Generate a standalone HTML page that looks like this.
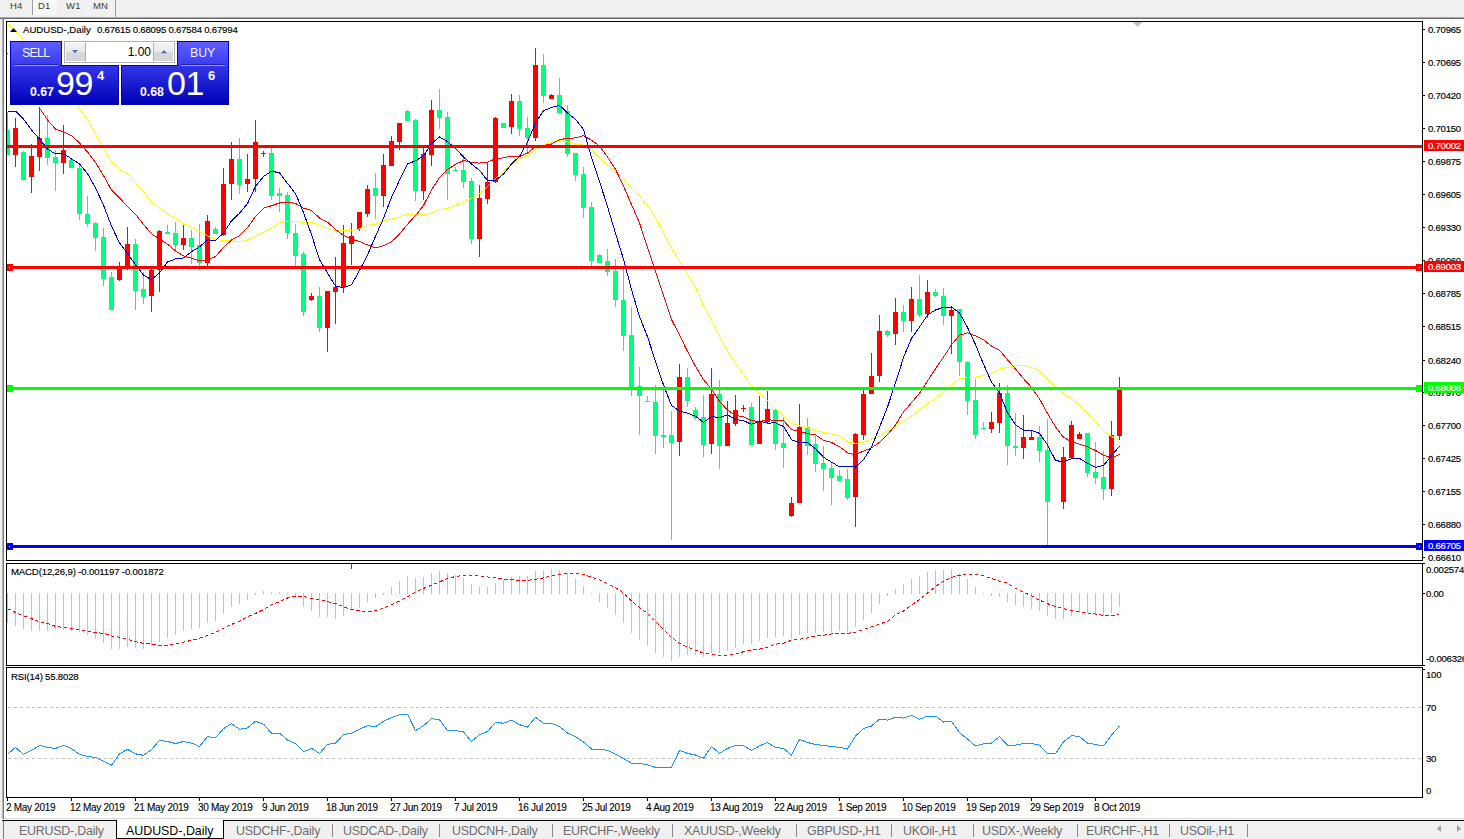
<!DOCTYPE html><html><head><meta charset="utf-8"><title>AUDUSD-,Daily</title><style>
*{margin:0;padding:0;box-sizing:border-box}
body{width:1464px;height:839px;overflow:hidden;position:relative;background:#fff;font-family:"Liberation Sans",sans-serif}
.t{position:absolute;white-space:nowrap;line-height:10px;font-size:9.6px;letter-spacing:-0.1px;color:#000;-webkit-text-stroke:0.15px currentColor}
.ax{position:absolute;white-space:nowrap;font-size:9.6px;letter-spacing:-0.25px;color:#000;line-height:10px;left:1428px;-webkit-text-stroke:0.15px currentColor}
.dt{position:absolute;white-space:nowrap;font-size:10px;letter-spacing:-0.3px;color:#000;line-height:10px;top:803px;-webkit-text-stroke:0.1px currentColor}
.tab{position:absolute;top:822px;height:18px;font-size:12.4px;letter-spacing:-0.2px;color:#6d6d6d;line-height:18px;white-space:nowrap}
.sep{position:absolute;top:824px;width:1px;height:13px;background:#8a8a8a}
.pn{position:absolute;color:#fff;white-space:nowrap;line-height:1}
</style></head><body>
<div style="position:absolute;left:0;top:0;width:1464px;height:17px;background:#f0f0f0"></div>
<div style="position:absolute;left:0;top:17px;width:1464px;height:1px;background:#a8a8a8"></div>
<div style="position:absolute;left:0;top:18px;width:1464px;height:1px;background:#6c6c6c"></div>
<div style="position:absolute;left:33px;top:0;width:24px;height:15px;background:#f7f7f7"></div>
<div style="position:absolute;left:32px;top:0;width:1px;height:15px;background:#a0a0a0"></div>
<div style="position:absolute;left:115px;top:0;width:1px;height:17px;background:#a0a0a0"></div>
<div class="t" style="left:10px;top:1px;font-size:9.5px;letter-spacing:0.2px;color:#3a3a3a;-webkit-text-stroke:0">H4</div>
<div class="t" style="left:38px;top:1px;font-size:9.5px;letter-spacing:0.2px;color:#3a3a3a;-webkit-text-stroke:0">D1</div>
<div class="t" style="left:66px;top:1px;font-size:9.5px;letter-spacing:0.2px;color:#3a3a3a;-webkit-text-stroke:0">W1</div>
<div class="t" style="left:93px;top:1px;font-size:9.5px;letter-spacing:0.2px;color:#3a3a3a;-webkit-text-stroke:0">MN</div>
<div style="position:absolute;left:0;top:19px;width:2px;height:800px;background:#f0f0f0"></div>
<div style="position:absolute;left:2px;top:19px;width:1px;height:800px;background:#b4b4b4"></div><div style="position:absolute;left:3px;top:19px;width:1px;height:800px;background:#7c7c7c"></div>
<svg style="position:absolute;left:0;top:0" width="1464" height="839" shape-rendering="crispEdges">
<defs><clipPath id="cm"><rect x="7" y="22" width="1415" height="538"/></clipPath><clipPath id="cd"><rect x="7" y="564" width="1415" height="101"/></clipPath><clipPath id="cr"><rect x="7" y="668" width="1415" height="129"/></clipPath></defs>
<polygon points="1132.8,22 1142.2,22 1137.5,27" fill="#c0c0c0" shape-rendering="auto"/>
<g clip-path="url(#cm)">
<rect x="7" y="112" width="1" height="43" fill="#00ff7f"/>
<rect x="5" y="130" width="5" height="25" fill="#00ff7f"/>
<rect x="15" y="118" width="1" height="49" fill="#ff0000"/>
<rect x="13" y="128" width="5" height="27" fill="#ff0000"/>
<rect x="23" y="151" width="1" height="30" fill="#00ff7f"/>
<rect x="21" y="152" width="5" height="28" fill="#00ff7f"/>
<rect x="31" y="144" width="1" height="49" fill="#ff0000"/>
<rect x="29" y="156" width="5" height="21" fill="#ff0000"/>
<rect x="39" y="107" width="1" height="64" fill="#ff0000"/>
<rect x="37" y="138" width="5" height="19" fill="#ff0000"/>
<rect x="47" y="115" width="1" height="50" fill="#00ff7f"/>
<rect x="45" y="138" width="5" height="20" fill="#00ff7f"/>
<rect x="55" y="150" width="1" height="41" fill="#00ff7f"/>
<rect x="53" y="157" width="5" height="6" fill="#00ff7f"/>
<rect x="63" y="125" width="1" height="49" fill="#ff0000"/>
<rect x="61" y="150" width="5" height="13" fill="#ff0000"/>
<rect x="71" y="158" width="1" height="10" fill="#00ff7f"/>
<rect x="69" y="160" width="5" height="8" fill="#00ff7f"/>
<rect x="79" y="164" width="1" height="56" fill="#00ff7f"/>
<rect x="77" y="168" width="5" height="46" fill="#00ff7f"/>
<rect x="87" y="196" width="1" height="31" fill="#00ff7f"/>
<rect x="85" y="214" width="5" height="10" fill="#00ff7f"/>
<rect x="95" y="222" width="1" height="29" fill="#00ff7f"/>
<rect x="93" y="223" width="5" height="15" fill="#00ff7f"/>
<rect x="103" y="228" width="1" height="58" fill="#00ff7f"/>
<rect x="101" y="237" width="5" height="42" fill="#00ff7f"/>
<rect x="111" y="272" width="1" height="38" fill="#00ff7f"/>
<rect x="109" y="277" width="5" height="33" fill="#00ff7f"/>
<rect x="119" y="262" width="1" height="19" fill="#ff0000"/>
<rect x="117" y="267" width="5" height="13" fill="#ff0000"/>
<rect x="127" y="227" width="1" height="43" fill="#ff0000"/>
<rect x="125" y="244" width="5" height="24" fill="#ff0000"/>
<rect x="135" y="239" width="1" height="71" fill="#00ff7f"/>
<rect x="133" y="244" width="5" height="47" fill="#00ff7f"/>
<rect x="143" y="272" width="1" height="32" fill="#00ff7f"/>
<rect x="141" y="289" width="5" height="8" fill="#00ff7f"/>
<rect x="151" y="268" width="1" height="44" fill="#ff0000"/>
<rect x="149" y="270" width="5" height="26" fill="#ff0000"/>
<rect x="159" y="230" width="1" height="62" fill="#ff0000"/>
<rect x="157" y="231" width="5" height="39" fill="#ff0000"/>
<rect x="167" y="225" width="1" height="9" fill="#00ff7f"/>
<rect x="165" y="232" width="5" height="2" fill="#00ff7f"/>
<rect x="175" y="222" width="1" height="30" fill="#00ff7f"/>
<rect x="173" y="233" width="5" height="12" fill="#00ff7f"/>
<rect x="183" y="225" width="1" height="25" fill="#ff0000"/>
<rect x="181" y="238" width="5" height="7" fill="#ff0000"/>
<rect x="191" y="230" width="1" height="34" fill="#00ff7f"/>
<rect x="189" y="238" width="5" height="9" fill="#00ff7f"/>
<rect x="199" y="224" width="1" height="46" fill="#00ff7f"/>
<rect x="197" y="245" width="5" height="18" fill="#00ff7f"/>
<rect x="207" y="215" width="1" height="51" fill="#ff0000"/>
<rect x="205" y="221" width="5" height="42" fill="#ff0000"/>
<rect x="215" y="227" width="1" height="7" fill="#00ff7f"/>
<rect x="213" y="229" width="5" height="5" fill="#00ff7f"/>
<rect x="223" y="168" width="1" height="68" fill="#ff0000"/>
<rect x="221" y="184" width="5" height="51" fill="#ff0000"/>
<rect x="231" y="142" width="1" height="58" fill="#ff0000"/>
<rect x="229" y="159" width="5" height="25" fill="#ff0000"/>
<rect x="239" y="138" width="1" height="56" fill="#00ff7f"/>
<rect x="237" y="159" width="5" height="26" fill="#00ff7f"/>
<rect x="247" y="154" width="1" height="38" fill="#ff0000"/>
<rect x="245" y="179" width="5" height="5" fill="#ff0000"/>
<rect x="255" y="120" width="1" height="72" fill="#ff0000"/>
<rect x="253" y="142" width="5" height="37" fill="#ff0000"/>
<rect x="263" y="151" width="1" height="6" fill="#ff0000"/>
<rect x="261" y="153" width="5" height="1" fill="#ff0000"/>
<rect x="271" y="148" width="1" height="52" fill="#00ff7f"/>
<rect x="269" y="153" width="5" height="43" fill="#00ff7f"/>
<rect x="279" y="188" width="1" height="24" fill="#00ff7f"/>
<rect x="277" y="193" width="5" height="3" fill="#00ff7f"/>
<rect x="287" y="192" width="1" height="47" fill="#00ff7f"/>
<rect x="285" y="195" width="5" height="38" fill="#00ff7f"/>
<rect x="295" y="224" width="1" height="44" fill="#00ff7f"/>
<rect x="293" y="233" width="5" height="23" fill="#00ff7f"/>
<rect x="303" y="252" width="1" height="64" fill="#00ff7f"/>
<rect x="301" y="254" width="5" height="58" fill="#00ff7f"/>
<rect x="311" y="293" width="1" height="8" fill="#ff0000"/>
<rect x="309" y="296" width="5" height="4" fill="#ff0000"/>
<rect x="319" y="287" width="1" height="45" fill="#00ff7f"/>
<rect x="317" y="296" width="5" height="32" fill="#00ff7f"/>
<rect x="327" y="291" width="1" height="61" fill="#ff0000"/>
<rect x="325" y="291" width="5" height="37" fill="#ff0000"/>
<rect x="335" y="257" width="1" height="67" fill="#ff0000"/>
<rect x="333" y="287" width="5" height="5" fill="#ff0000"/>
<rect x="343" y="225" width="1" height="68" fill="#ff0000"/>
<rect x="341" y="243" width="5" height="44" fill="#ff0000"/>
<rect x="351" y="223" width="1" height="42" fill="#ff0000"/>
<rect x="349" y="236" width="5" height="8" fill="#ff0000"/>
<rect x="359" y="212" width="1" height="19" fill="#ff0000"/>
<rect x="357" y="212" width="5" height="17" fill="#ff0000"/>
<rect x="367" y="185" width="1" height="32" fill="#ff0000"/>
<rect x="365" y="189" width="5" height="25" fill="#ff0000"/>
<rect x="375" y="173" width="1" height="46" fill="#00ff7f"/>
<rect x="373" y="188" width="5" height="8" fill="#00ff7f"/>
<rect x="383" y="154" width="1" height="53" fill="#ff0000"/>
<rect x="381" y="165" width="5" height="31" fill="#ff0000"/>
<rect x="391" y="136" width="1" height="30" fill="#ff0000"/>
<rect x="389" y="141" width="5" height="25" fill="#ff0000"/>
<rect x="399" y="123" width="1" height="27" fill="#ff0000"/>
<rect x="397" y="123" width="5" height="19" fill="#ff0000"/>
<rect x="407" y="110" width="1" height="11" fill="#00ff7f"/>
<rect x="405" y="111" width="5" height="10" fill="#00ff7f"/>
<rect x="415" y="119" width="1" height="82" fill="#00ff7f"/>
<rect x="413" y="120" width="5" height="71" fill="#00ff7f"/>
<rect x="423" y="148" width="1" height="52" fill="#ff0000"/>
<rect x="421" y="154" width="5" height="37" fill="#ff0000"/>
<rect x="431" y="100" width="1" height="66" fill="#ff0000"/>
<rect x="429" y="110" width="5" height="45" fill="#ff0000"/>
<rect x="439" y="89" width="1" height="40" fill="#00ff7f"/>
<rect x="437" y="110" width="5" height="8" fill="#00ff7f"/>
<rect x="447" y="112" width="1" height="88" fill="#00ff7f"/>
<rect x="445" y="117" width="5" height="57" fill="#00ff7f"/>
<rect x="455" y="167" width="1" height="4" fill="#00ff7f"/>
<rect x="453" y="170" width="5" height="1" fill="#00ff7f"/>
<rect x="463" y="154" width="1" height="34" fill="#00ff7f"/>
<rect x="461" y="170" width="5" height="12" fill="#00ff7f"/>
<rect x="471" y="178" width="1" height="66" fill="#00ff7f"/>
<rect x="469" y="181" width="5" height="58" fill="#00ff7f"/>
<rect x="479" y="185" width="1" height="72" fill="#ff0000"/>
<rect x="477" y="198" width="5" height="41" fill="#ff0000"/>
<rect x="487" y="163" width="1" height="41" fill="#ff0000"/>
<rect x="485" y="182" width="5" height="17" fill="#ff0000"/>
<rect x="495" y="117" width="1" height="66" fill="#ff0000"/>
<rect x="493" y="118" width="5" height="64" fill="#ff0000"/>
<rect x="503" y="123" width="1" height="5" fill="#00ff7f"/>
<rect x="501" y="123" width="5" height="5" fill="#00ff7f"/>
<rect x="511" y="94" width="1" height="40" fill="#ff0000"/>
<rect x="509" y="101" width="5" height="26" fill="#ff0000"/>
<rect x="519" y="95" width="1" height="41" fill="#00ff7f"/>
<rect x="517" y="101" width="5" height="28" fill="#00ff7f"/>
<rect x="527" y="117" width="1" height="36" fill="#00ff7f"/>
<rect x="525" y="128" width="5" height="10" fill="#00ff7f"/>
<rect x="535" y="48" width="1" height="93" fill="#ff0000"/>
<rect x="533" y="65" width="5" height="73" fill="#ff0000"/>
<rect x="543" y="54" width="1" height="49" fill="#00ff7f"/>
<rect x="541" y="65" width="5" height="31" fill="#00ff7f"/>
<rect x="551" y="94" width="1" height="5" fill="#ff0000"/>
<rect x="549" y="95" width="5" height="4" fill="#ff0000"/>
<rect x="559" y="78" width="1" height="36" fill="#00ff7f"/>
<rect x="557" y="95" width="5" height="18" fill="#00ff7f"/>
<rect x="567" y="105" width="1" height="52" fill="#00ff7f"/>
<rect x="565" y="111" width="5" height="43" fill="#00ff7f"/>
<rect x="575" y="153" width="1" height="28" fill="#00ff7f"/>
<rect x="573" y="153" width="5" height="22" fill="#00ff7f"/>
<rect x="583" y="167" width="1" height="51" fill="#00ff7f"/>
<rect x="581" y="174" width="5" height="34" fill="#00ff7f"/>
<rect x="591" y="202" width="1" height="64" fill="#00ff7f"/>
<rect x="589" y="207" width="5" height="54" fill="#00ff7f"/>
<rect x="599" y="254" width="1" height="9" fill="#00ff7f"/>
<rect x="597" y="255" width="5" height="8" fill="#00ff7f"/>
<rect x="607" y="249" width="1" height="27" fill="#00ff7f"/>
<rect x="605" y="261" width="5" height="11" fill="#00ff7f"/>
<rect x="615" y="259" width="1" height="48" fill="#00ff7f"/>
<rect x="613" y="271" width="5" height="29" fill="#00ff7f"/>
<rect x="623" y="267" width="1" height="84" fill="#00ff7f"/>
<rect x="621" y="300" width="5" height="36" fill="#00ff7f"/>
<rect x="631" y="307" width="1" height="89" fill="#00ff7f"/>
<rect x="629" y="335" width="5" height="53" fill="#00ff7f"/>
<rect x="639" y="367" width="1" height="68" fill="#00ff7f"/>
<rect x="637" y="386" width="5" height="10" fill="#00ff7f"/>
<rect x="647" y="396" width="1" height="6" fill="#00ff7f"/>
<rect x="645" y="401" width="5" height="1" fill="#00ff7f"/>
<rect x="655" y="385" width="1" height="69" fill="#00ff7f"/>
<rect x="653" y="402" width="5" height="34" fill="#00ff7f"/>
<rect x="663" y="388" width="1" height="60" fill="#00ff7f"/>
<rect x="661" y="435" width="5" height="2" fill="#00ff7f"/>
<rect x="671" y="411" width="1" height="129" fill="#00ff7f"/>
<rect x="669" y="435" width="5" height="8" fill="#00ff7f"/>
<rect x="679" y="364" width="1" height="92" fill="#ff0000"/>
<rect x="677" y="377" width="5" height="65" fill="#ff0000"/>
<rect x="687" y="368" width="1" height="39" fill="#00ff7f"/>
<rect x="685" y="377" width="5" height="24" fill="#00ff7f"/>
<rect x="695" y="407" width="1" height="13" fill="#00ff7f"/>
<rect x="693" y="410" width="5" height="8" fill="#00ff7f"/>
<rect x="703" y="395" width="1" height="62" fill="#00ff7f"/>
<rect x="701" y="417" width="5" height="28" fill="#00ff7f"/>
<rect x="711" y="368" width="1" height="86" fill="#ff0000"/>
<rect x="709" y="394" width="5" height="50" fill="#ff0000"/>
<rect x="719" y="380" width="1" height="89" fill="#00ff7f"/>
<rect x="717" y="394" width="5" height="52" fill="#00ff7f"/>
<rect x="727" y="401" width="1" height="45" fill="#ff0000"/>
<rect x="725" y="423" width="5" height="23" fill="#ff0000"/>
<rect x="735" y="395" width="1" height="31" fill="#ff0000"/>
<rect x="733" y="410" width="5" height="14" fill="#ff0000"/>
<rect x="743" y="405" width="1" height="7" fill="#ff0000"/>
<rect x="741" y="408" width="5" height="1" fill="#ff0000"/>
<rect x="751" y="403" width="1" height="43" fill="#00ff7f"/>
<rect x="749" y="407" width="5" height="38" fill="#00ff7f"/>
<rect x="759" y="396" width="1" height="48" fill="#ff0000"/>
<rect x="757" y="421" width="5" height="23" fill="#ff0000"/>
<rect x="767" y="391" width="1" height="32" fill="#ff0000"/>
<rect x="765" y="409" width="5" height="13" fill="#ff0000"/>
<rect x="775" y="409" width="1" height="41" fill="#00ff7f"/>
<rect x="773" y="410" width="5" height="34" fill="#00ff7f"/>
<rect x="783" y="417" width="1" height="51" fill="#00ff7f"/>
<rect x="781" y="443" width="5" height="5" fill="#00ff7f"/>
<rect x="791" y="497" width="1" height="20" fill="#ff0000"/>
<rect x="789" y="503" width="5" height="13" fill="#ff0000"/>
<rect x="799" y="404" width="1" height="99" fill="#ff0000"/>
<rect x="797" y="427" width="5" height="76" fill="#ff0000"/>
<rect x="807" y="418" width="1" height="37" fill="#00ff7f"/>
<rect x="805" y="427" width="5" height="19" fill="#00ff7f"/>
<rect x="815" y="436" width="1" height="36" fill="#00ff7f"/>
<rect x="813" y="444" width="5" height="20" fill="#00ff7f"/>
<rect x="823" y="446" width="1" height="45" fill="#00ff7f"/>
<rect x="821" y="463" width="5" height="6" fill="#00ff7f"/>
<rect x="831" y="462" width="1" height="43" fill="#00ff7f"/>
<rect x="829" y="468" width="5" height="10" fill="#00ff7f"/>
<rect x="839" y="470" width="1" height="11" fill="#00ff7f"/>
<rect x="837" y="476" width="5" height="5" fill="#00ff7f"/>
<rect x="847" y="469" width="1" height="31" fill="#00ff7f"/>
<rect x="845" y="479" width="5" height="19" fill="#00ff7f"/>
<rect x="855" y="433" width="1" height="94" fill="#ff0000"/>
<rect x="853" y="434" width="5" height="63" fill="#ff0000"/>
<rect x="863" y="390" width="1" height="50" fill="#ff0000"/>
<rect x="861" y="394" width="5" height="41" fill="#ff0000"/>
<rect x="871" y="353" width="1" height="41" fill="#ff0000"/>
<rect x="869" y="376" width="5" height="18" fill="#ff0000"/>
<rect x="879" y="315" width="1" height="67" fill="#ff0000"/>
<rect x="877" y="331" width="5" height="45" fill="#ff0000"/>
<rect x="887" y="330" width="1" height="7" fill="#00ff7f"/>
<rect x="885" y="331" width="5" height="4" fill="#00ff7f"/>
<rect x="895" y="298" width="1" height="47" fill="#ff0000"/>
<rect x="893" y="312" width="5" height="22" fill="#ff0000"/>
<rect x="903" y="305" width="1" height="27" fill="#00ff7f"/>
<rect x="901" y="312" width="5" height="9" fill="#00ff7f"/>
<rect x="911" y="287" width="1" height="45" fill="#ff0000"/>
<rect x="909" y="299" width="5" height="22" fill="#ff0000"/>
<rect x="919" y="275" width="1" height="42" fill="#00ff7f"/>
<rect x="917" y="299" width="5" height="16" fill="#00ff7f"/>
<rect x="927" y="280" width="1" height="38" fill="#ff0000"/>
<rect x="925" y="292" width="5" height="22" fill="#ff0000"/>
<rect x="935" y="289" width="1" height="8" fill="#00ff7f"/>
<rect x="933" y="292" width="5" height="4" fill="#00ff7f"/>
<rect x="943" y="288" width="1" height="37" fill="#00ff7f"/>
<rect x="941" y="296" width="5" height="20" fill="#00ff7f"/>
<rect x="951" y="306" width="1" height="48" fill="#ff0000"/>
<rect x="949" y="310" width="5" height="6" fill="#ff0000"/>
<rect x="959" y="309" width="1" height="67" fill="#00ff7f"/>
<rect x="957" y="309" width="5" height="53" fill="#00ff7f"/>
<rect x="967" y="361" width="1" height="54" fill="#00ff7f"/>
<rect x="965" y="362" width="5" height="39" fill="#00ff7f"/>
<rect x="975" y="379" width="1" height="60" fill="#00ff7f"/>
<rect x="973" y="400" width="5" height="35" fill="#00ff7f"/>
<rect x="983" y="422" width="1" height="7" fill="#00ff7f"/>
<rect x="981" y="428" width="5" height="1" fill="#00ff7f"/>
<rect x="991" y="412" width="1" height="21" fill="#ff0000"/>
<rect x="989" y="422" width="5" height="7" fill="#ff0000"/>
<rect x="999" y="383" width="1" height="50" fill="#ff0000"/>
<rect x="997" y="393" width="5" height="30" fill="#ff0000"/>
<rect x="1007" y="385" width="1" height="80" fill="#00ff7f"/>
<rect x="1005" y="393" width="5" height="53" fill="#00ff7f"/>
<rect x="1015" y="413" width="1" height="43" fill="#00ff7f"/>
<rect x="1013" y="446" width="5" height="2" fill="#00ff7f"/>
<rect x="1023" y="415" width="1" height="44" fill="#ff0000"/>
<rect x="1021" y="437" width="5" height="11" fill="#ff0000"/>
<rect x="1031" y="431" width="1" height="9" fill="#ff0000"/>
<rect x="1029" y="437" width="5" height="3" fill="#ff0000"/>
<rect x="1039" y="426" width="1" height="36" fill="#00ff7f"/>
<rect x="1037" y="437" width="5" height="14" fill="#00ff7f"/>
<rect x="1047" y="419" width="1" height="126" fill="#00ff7f"/>
<rect x="1045" y="450" width="5" height="52" fill="#00ff7f"/>
<rect x="1063" y="447" width="1" height="62" fill="#ff0000"/>
<rect x="1061" y="457" width="5" height="45" fill="#ff0000"/>
<rect x="1071" y="421" width="1" height="37" fill="#ff0000"/>
<rect x="1069" y="425" width="5" height="33" fill="#ff0000"/>
<rect x="1079" y="432" width="1" height="7" fill="#ff0000"/>
<rect x="1077" y="434" width="5" height="5" fill="#ff0000"/>
<rect x="1087" y="433" width="1" height="44" fill="#00ff7f"/>
<rect x="1085" y="433" width="5" height="40" fill="#00ff7f"/>
<rect x="1095" y="442" width="1" height="42" fill="#00ff7f"/>
<rect x="1093" y="472" width="5" height="6" fill="#00ff7f"/>
<rect x="1103" y="451" width="1" height="49" fill="#00ff7f"/>
<rect x="1101" y="477" width="5" height="12" fill="#00ff7f"/>
<rect x="1111" y="421" width="1" height="75" fill="#ff0000"/>
<rect x="1109" y="435" width="5" height="54" fill="#ff0000"/>
<rect x="1119" y="377" width="1" height="63" fill="#ff0000"/>
<rect x="1117" y="390" width="5" height="46" fill="#ff0000"/>
<polyline points="7.5,24.0 15.5,31.5 23.5,39.0 31.5,49.0 39.5,59.0 47.5,69.0 55.5,79.0 63.5,89.0 71.5,99.0 79.5,109.5 87.5,119.5 95.5,134.0 103.5,148.5 111.5,162.0 119.5,169.5 127.5,174.0 135.5,182.6 143.5,192.0 151.5,202.0 159.5,208.0 167.5,214.0 175.5,218.3 183.5,223.6 191.5,226.8 199.5,231.9 207.5,235.8 215.5,239.4 223.5,240.4 231.5,240.9 239.5,241.7 247.5,240.0 255.5,236.1 263.5,232.0 271.5,228.1 279.5,222.7 287.5,221.0 295.5,221.6 303.5,222.6 311.5,222.6 319.5,225.3 327.5,228.2 335.5,230.7 343.5,230.6 351.5,230.5 359.5,228.9 367.5,225.3 375.5,224.1 383.5,220.9 391.5,218.8 399.5,217.1 407.5,214.0 415.5,214.6 423.5,215.2 431.5,213.1 439.5,209.4 447.5,208.4 455.5,205.4 463.5,201.9 471.5,198.4 479.5,193.8 487.5,186.8 495.5,178.6 503.5,171.0 511.5,164.2 519.5,159.1 527.5,155.6 535.5,149.7 543.5,145.0 551.5,141.6 559.5,140.3 567.5,141.8 575.5,144.3 583.5,145.1 591.5,150.2 599.5,157.5 607.5,164.9 615.5,170.9 623.5,178.7 631.5,188.5 639.5,196.0 647.5,205.7 655.5,217.8 663.5,233.0 671.5,248.0 679.5,261.1 687.5,274.1 695.5,287.4 703.5,305.5 711.5,319.7 719.5,336.4 727.5,351.2 735.5,363.4 743.5,374.5 751.5,385.8 759.5,393.4 767.5,400.3 775.5,408.5 783.5,415.6 791.5,423.5 799.5,425.4 807.5,427.8 815.5,430.7 823.5,432.3 831.5,434.2 839.5,436.0 847.5,441.8 855.5,443.4 863.5,442.2 871.5,439.0 879.5,436.0 887.5,430.7 895.5,425.4 903.5,421.1 911.5,416.0 919.5,409.8 927.5,403.6 935.5,398.2 943.5,392.1 951.5,385.6 959.5,378.9 967.5,377.6 975.5,377.1 983.5,375.4 991.5,373.2 999.5,369.1 1007.5,367.5 1015.5,365.1 1023.5,365.2 1031.5,367.3 1039.5,370.9 1047.5,379.0 1055.5,387.0 1063.5,393.9 1071.5,398.8 1079.5,405.2 1087.5,412.8 1095.5,421.6 1103.5,430.8 1111.5,436.5 1119.5,440.3" fill="none" stroke="#ffff00" stroke-width="1" />
<polyline points="7.5,53.0 15.5,67.0 23.5,81.0 31.5,95.0 39.5,108.0 47.5,120.0 55.5,129.0 63.5,132.0 71.5,135.5 79.5,143.0 87.5,152.0 95.5,162.5 103.5,175.5 111.5,190.1 119.5,198.1 127.5,206.4 135.5,214.3 143.5,224.4 151.5,233.8 159.5,239.0 167.5,244.1 175.5,250.9 183.5,255.9 191.5,258.2 199.5,261.0 207.5,259.8 215.5,256.6 223.5,247.6 231.5,239.9 239.5,235.6 247.5,227.6 255.5,216.6 263.5,208.2 271.5,205.7 279.5,203.0 287.5,202.1 295.5,203.4 303.5,208.1 311.5,210.4 319.5,218.1 327.5,222.1 335.5,229.5 343.5,235.5 351.5,239.1 359.5,241.5 367.5,244.9 375.5,247.9 383.5,245.7 391.5,241.8 399.5,233.9 407.5,224.3 415.5,215.6 423.5,205.5 431.5,189.9 439.5,177.6 447.5,169.5 455.5,164.4 463.5,160.5 471.5,162.4 479.5,163.1 487.5,162.1 495.5,158.7 503.5,157.8 511.5,156.2 519.5,156.8 527.5,153.0 535.5,146.6 543.5,145.6 551.5,144.0 559.5,139.6 567.5,138.4 575.5,137.9 583.5,135.7 591.5,140.2 599.5,146.0 607.5,157.0 615.5,169.3 623.5,186.1 631.5,204.6 639.5,223.0 647.5,247.1 655.5,271.4 663.5,295.8 671.5,319.4 679.5,335.3 687.5,351.4 695.5,366.4 703.5,379.6 711.5,388.9 719.5,401.4 727.5,410.1 735.5,415.4 743.5,416.9 751.5,420.4 759.5,421.7 767.5,419.8 775.5,420.3 783.5,420.6 791.5,429.6 799.5,431.5 807.5,433.5 815.5,434.9 823.5,440.2 831.5,442.5 839.5,446.6 847.5,452.9 855.5,454.8 863.5,451.1 871.5,447.9 879.5,442.4 887.5,434.6 895.5,424.9 903.5,411.9 911.5,402.7 919.5,393.4 927.5,381.1 935.5,368.7 943.5,357.1 951.5,344.9 959.5,335.2 967.5,332.9 975.5,335.8 983.5,339.6 991.5,346.1 999.5,350.2 1007.5,359.8 1015.5,368.9 1023.5,378.7 1031.5,387.4 1039.5,398.8 1047.5,413.5 1055.5,426.8 1063.5,437.3 1071.5,441.8 1079.5,444.1 1087.5,446.9 1095.5,450.4 1103.5,455.1 1111.5,458.1 1119.5,454.1" fill="none" stroke="#ff0000" stroke-width="1" />
<polyline points="7.5,111.0 15.5,111.0 23.5,119.0 31.5,130.0 39.5,139.0 47.5,149.0 55.5,154.0 63.5,153.3 71.5,159.0 79.5,163.9 87.5,173.6 95.5,187.9 103.5,205.1 111.5,226.1 119.5,242.9 127.5,253.7 135.5,264.7 143.5,275.1 151.5,279.7 159.5,272.9 167.5,262.0 175.5,258.9 183.5,258.0 191.5,251.7 199.5,246.9 207.5,239.9 215.5,240.3 223.5,233.1 231.5,220.9 239.5,213.3 247.5,203.6 255.5,186.3 263.5,176.6 271.5,171.1 279.5,172.9 287.5,183.4 295.5,193.6 303.5,212.6 311.5,234.6 319.5,259.6 327.5,273.1 335.5,286.1 343.5,287.6 351.5,284.7 359.5,270.4 367.5,255.1 375.5,236.3 383.5,218.3 391.5,197.4 399.5,180.3 407.5,163.9 415.5,160.9 423.5,155.9 431.5,143.6 439.5,136.9 447.5,141.6 455.5,148.4 463.5,157.1 471.5,164.0 479.5,170.3 487.5,180.6 495.5,180.6 503.5,174.0 511.5,164.0 519.5,156.4 527.5,142.0 535.5,123.0 543.5,110.7 551.5,107.4 559.5,105.3 567.5,112.9 575.5,119.4 583.5,129.4 591.5,157.4 599.5,181.3 607.5,206.6 615.5,233.3 623.5,259.3 631.5,289.7 639.5,316.6 647.5,336.7 655.5,361.4 663.5,385.0 671.5,405.4 679.5,411.3 687.5,413.1 695.5,416.3 703.5,422.4 711.5,416.4 719.5,417.7 727.5,414.9 735.5,419.6 743.5,420.6 751.5,424.4 759.5,421.0 767.5,423.1 775.5,422.9 783.5,426.4 791.5,439.7 799.5,442.4 807.5,442.6 815.5,448.7 823.5,457.3 831.5,462.1 839.5,466.9 847.5,466.1 855.5,467.1 863.5,459.7 871.5,447.1 879.5,427.4 887.5,407.0 895.5,382.9 903.5,357.6 911.5,338.3 919.5,327.0 927.5,315.0 935.5,310.0 943.5,307.3 951.5,307.0 959.5,312.9 967.5,327.4 975.5,344.6 983.5,364.1 991.5,382.1 999.5,393.1 1007.5,412.6 1015.5,424.9 1023.5,430.0 1031.5,430.3 1039.5,433.4 1047.5,444.9 1055.5,460.4 1063.5,462.0 1071.5,458.7 1079.5,458.3 1087.5,463.4 1095.5,467.3 1103.5,465.4 1111.5,455.9 1119.5,446.3" fill="none" stroke="#0000cd" stroke-width="1" />
</g>
<rect x="7" y="145" width="1415" height="3" fill="#ff0000"/>
<rect x="7" y="266" width="1415" height="3" fill="#ff0000"/>
<rect x="6" y="264" width="7" height="7" fill="#ff0000"/>
<rect x="9" y="267" width="1" height="1" fill="#fff"/>
<rect x="1416" y="264" width="7" height="7" fill="#ff0000"/>
<rect x="1419" y="267" width="1" height="1" fill="#fff"/>
<rect x="7" y="387" width="1415" height="3" fill="#00ff00"/>
<rect x="6" y="385" width="7" height="7" fill="#00ff00"/>
<rect x="9" y="388" width="1" height="1" fill="#fff"/>
<rect x="1416" y="385" width="7" height="7" fill="#00ff00"/>
<rect x="1419" y="388" width="1" height="1" fill="#fff"/>
<rect x="7" y="545" width="1415" height="3" fill="#0000ff"/>
<rect x="6" y="543" width="7" height="7" fill="#0000ff"/>
<rect x="9" y="546" width="1" height="1" fill="#fff"/>
<rect x="1416" y="543" width="7" height="7" fill="#0000ff"/>
<rect x="1419" y="546" width="1" height="1" fill="#fff"/>
<g clip-path="url(#cd)">
<rect x="7" y="593" width="1" height="30" fill="#c0c0c0"/>
<rect x="15" y="593" width="1" height="33" fill="#c0c0c0"/>
<rect x="23" y="593" width="1" height="36" fill="#c0c0c0"/>
<rect x="31" y="593" width="1" height="38" fill="#c0c0c0"/>
<rect x="39" y="593" width="1" height="38" fill="#c0c0c0"/>
<rect x="47" y="593" width="1" height="38" fill="#c0c0c0"/>
<rect x="55" y="593" width="1" height="36" fill="#c0c0c0"/>
<rect x="63" y="593" width="1" height="37" fill="#c0c0c0"/>
<rect x="71" y="593" width="1" height="38" fill="#c0c0c0"/>
<rect x="79" y="593" width="1" height="39" fill="#c0c0c0"/>
<rect x="87" y="593" width="1" height="42" fill="#c0c0c0"/>
<rect x="95" y="593" width="1" height="46" fill="#c0c0c0"/>
<rect x="103" y="593" width="1" height="50" fill="#c0c0c0"/>
<rect x="111" y="593" width="1" height="56" fill="#c0c0c0"/>
<rect x="119" y="593" width="1" height="56" fill="#c0c0c0"/>
<rect x="127" y="593" width="1" height="54" fill="#c0c0c0"/>
<rect x="135" y="593" width="1" height="55" fill="#c0c0c0"/>
<rect x="143" y="593" width="1" height="56" fill="#c0c0c0"/>
<rect x="151" y="593" width="1" height="53" fill="#c0c0c0"/>
<rect x="159" y="593" width="1" height="49" fill="#c0c0c0"/>
<rect x="167" y="593" width="1" height="45" fill="#c0c0c0"/>
<rect x="175" y="593" width="1" height="42" fill="#c0c0c0"/>
<rect x="183" y="593" width="1" height="38" fill="#c0c0c0"/>
<rect x="191" y="593" width="1" height="36" fill="#c0c0c0"/>
<rect x="199" y="593" width="1" height="35" fill="#c0c0c0"/>
<rect x="207" y="593" width="1" height="30" fill="#c0c0c0"/>
<rect x="215" y="593" width="1" height="28" fill="#c0c0c0"/>
<rect x="223" y="593" width="1" height="21" fill="#c0c0c0"/>
<rect x="231" y="593" width="1" height="14" fill="#c0c0c0"/>
<rect x="239" y="593" width="1" height="11" fill="#c0c0c0"/>
<rect x="247" y="593" width="1" height="7" fill="#c0c0c0"/>
<rect x="255" y="593" width="1" height="2" fill="#c0c0c0"/>
<rect x="263" y="591" width="1" height="3" fill="#c0c0c0"/>
<rect x="271" y="592" width="1" height="2" fill="#c0c0c0"/>
<rect x="279" y="592" width="1" height="2" fill="#c0c0c0"/>
<rect x="287" y="593" width="1" height="1" fill="#c0c0c0"/>
<rect x="295" y="593" width="1" height="5" fill="#c0c0c0"/>
<rect x="303" y="593" width="1" height="14" fill="#c0c0c0"/>
<rect x="311" y="593" width="1" height="18" fill="#c0c0c0"/>
<rect x="319" y="593" width="1" height="24" fill="#c0c0c0"/>
<rect x="327" y="593" width="1" height="24" fill="#c0c0c0"/>
<rect x="335" y="593" width="1" height="26" fill="#c0c0c0"/>
<rect x="343" y="593" width="1" height="23" fill="#c0c0c0"/>
<rect x="351" y="593" width="1" height="16" fill="#c0c0c0"/>
<rect x="359" y="593" width="1" height="15" fill="#c0c0c0"/>
<rect x="367" y="593" width="1" height="9" fill="#c0c0c0"/>
<rect x="375" y="593" width="1" height="5" fill="#c0c0c0"/>
<rect x="383" y="593" width="1" height="2" fill="#c0c0c0"/>
<rect x="391" y="587" width="1" height="7" fill="#c0c0c0"/>
<rect x="399" y="581" width="1" height="13" fill="#c0c0c0"/>
<rect x="407" y="576" width="1" height="18" fill="#c0c0c0"/>
<rect x="415" y="578" width="1" height="16" fill="#c0c0c0"/>
<rect x="423" y="577" width="1" height="17" fill="#c0c0c0"/>
<rect x="431" y="573" width="1" height="21" fill="#c0c0c0"/>
<rect x="439" y="571" width="1" height="23" fill="#c0c0c0"/>
<rect x="447" y="573" width="1" height="21" fill="#c0c0c0"/>
<rect x="455" y="575" width="1" height="19" fill="#c0c0c0"/>
<rect x="463" y="578" width="1" height="16" fill="#c0c0c0"/>
<rect x="471" y="584" width="1" height="10" fill="#c0c0c0"/>
<rect x="479" y="587" width="1" height="7" fill="#c0c0c0"/>
<rect x="487" y="587" width="1" height="7" fill="#c0c0c0"/>
<rect x="495" y="583" width="1" height="11" fill="#c0c0c0"/>
<rect x="503" y="580" width="1" height="14" fill="#c0c0c0"/>
<rect x="511" y="577" width="1" height="17" fill="#c0c0c0"/>
<rect x="519" y="576" width="1" height="18" fill="#c0c0c0"/>
<rect x="527" y="576" width="1" height="18" fill="#c0c0c0"/>
<rect x="535" y="571" width="1" height="23" fill="#c0c0c0"/>
<rect x="543" y="570" width="1" height="24" fill="#c0c0c0"/>
<rect x="551" y="569" width="1" height="25" fill="#c0c0c0"/>
<rect x="559" y="570" width="1" height="24" fill="#c0c0c0"/>
<rect x="567" y="573" width="1" height="21" fill="#c0c0c0"/>
<rect x="575" y="579" width="1" height="15" fill="#c0c0c0"/>
<rect x="583" y="586" width="1" height="8" fill="#c0c0c0"/>
<rect x="591" y="593" width="1" height="1" fill="#c0c0c0"/>
<rect x="599" y="593" width="1" height="9" fill="#c0c0c0"/>
<rect x="607" y="593" width="1" height="15" fill="#c0c0c0"/>
<rect x="615" y="593" width="1" height="22" fill="#c0c0c0"/>
<rect x="623" y="593" width="1" height="30" fill="#c0c0c0"/>
<rect x="631" y="593" width="1" height="40" fill="#c0c0c0"/>
<rect x="639" y="593" width="1" height="47" fill="#c0c0c0"/>
<rect x="647" y="593" width="1" height="53" fill="#c0c0c0"/>
<rect x="655" y="593" width="1" height="60" fill="#c0c0c0"/>
<rect x="663" y="593" width="1" height="64" fill="#c0c0c0"/>
<rect x="671" y="593" width="1" height="68" fill="#c0c0c0"/>
<rect x="679" y="593" width="1" height="64" fill="#c0c0c0"/>
<rect x="687" y="593" width="1" height="62" fill="#c0c0c0"/>
<rect x="695" y="593" width="1" height="62" fill="#c0c0c0"/>
<rect x="703" y="593" width="1" height="64" fill="#c0c0c0"/>
<rect x="711" y="593" width="1" height="60" fill="#c0c0c0"/>
<rect x="719" y="593" width="1" height="60" fill="#c0c0c0"/>
<rect x="727" y="593" width="1" height="58" fill="#c0c0c0"/>
<rect x="735" y="593" width="1" height="55" fill="#c0c0c0"/>
<rect x="743" y="593" width="1" height="51" fill="#c0c0c0"/>
<rect x="751" y="593" width="1" height="51" fill="#c0c0c0"/>
<rect x="759" y="593" width="1" height="48" fill="#c0c0c0"/>
<rect x="767" y="593" width="1" height="45" fill="#c0c0c0"/>
<rect x="775" y="593" width="1" height="44" fill="#c0c0c0"/>
<rect x="783" y="593" width="1" height="43" fill="#c0c0c0"/>
<rect x="791" y="593" width="1" height="46" fill="#c0c0c0"/>
<rect x="799" y="593" width="1" height="42" fill="#c0c0c0"/>
<rect x="807" y="593" width="1" height="40" fill="#c0c0c0"/>
<rect x="815" y="593" width="1" height="40" fill="#c0c0c0"/>
<rect x="823" y="593" width="1" height="39" fill="#c0c0c0"/>
<rect x="831" y="593" width="1" height="39" fill="#c0c0c0"/>
<rect x="839" y="593" width="1" height="38" fill="#c0c0c0"/>
<rect x="847" y="593" width="1" height="39" fill="#c0c0c0"/>
<rect x="855" y="593" width="1" height="34" fill="#c0c0c0"/>
<rect x="863" y="593" width="1" height="27" fill="#c0c0c0"/>
<rect x="871" y="593" width="1" height="20" fill="#c0c0c0"/>
<rect x="879" y="593" width="1" height="11" fill="#c0c0c0"/>
<rect x="887" y="593" width="1" height="3" fill="#c0c0c0"/>
<rect x="895" y="589" width="1" height="5" fill="#c0c0c0"/>
<rect x="903" y="584" width="1" height="10" fill="#c0c0c0"/>
<rect x="911" y="579" width="1" height="15" fill="#c0c0c0"/>
<rect x="919" y="576" width="1" height="18" fill="#c0c0c0"/>
<rect x="927" y="572" width="1" height="22" fill="#c0c0c0"/>
<rect x="935" y="570" width="1" height="24" fill="#c0c0c0"/>
<rect x="943" y="570" width="1" height="24" fill="#c0c0c0"/>
<rect x="951" y="569" width="1" height="25" fill="#c0c0c0"/>
<rect x="959" y="573" width="1" height="21" fill="#c0c0c0"/>
<rect x="967" y="579" width="1" height="15" fill="#c0c0c0"/>
<rect x="975" y="587" width="1" height="7" fill="#c0c0c0"/>
<rect x="983" y="593" width="1" height="1" fill="#c0c0c0"/>
<rect x="991" y="593" width="1" height="3" fill="#c0c0c0"/>
<rect x="999" y="593" width="1" height="4" fill="#c0c0c0"/>
<rect x="1007" y="593" width="1" height="9" fill="#c0c0c0"/>
<rect x="1015" y="593" width="1" height="12" fill="#c0c0c0"/>
<rect x="1023" y="593" width="1" height="14" fill="#c0c0c0"/>
<rect x="1031" y="593" width="1" height="16" fill="#c0c0c0"/>
<rect x="1039" y="593" width="1" height="18" fill="#c0c0c0"/>
<rect x="1047" y="593" width="1" height="23" fill="#c0c0c0"/>
<rect x="1055" y="593" width="1" height="26" fill="#c0c0c0"/>
<rect x="1063" y="593" width="1" height="26" fill="#c0c0c0"/>
<rect x="1071" y="593" width="1" height="23" fill="#c0c0c0"/>
<rect x="1079" y="593" width="1" height="20" fill="#c0c0c0"/>
<rect x="1087" y="593" width="1" height="20" fill="#c0c0c0"/>
<rect x="1095" y="593" width="1" height="22" fill="#c0c0c0"/>
<rect x="1103" y="593" width="1" height="23" fill="#c0c0c0"/>
<rect x="1111" y="593" width="1" height="20" fill="#c0c0c0"/>
<rect x="1119" y="593" width="1" height="14" fill="#c0c0c0"/>
<polyline points="7.5,608.6 15.5,612.5 23.5,616.0 31.5,618.5 39.5,622.4 47.5,623.4 55.5,626.4 63.5,627.4 71.5,628.4 79.5,629.4 87.5,631.3 95.5,632.7 103.5,633.3 111.5,635.9 119.5,637.3 127.5,639.3 135.5,641.8 143.5,643.2 151.5,644.2 159.5,645.2 167.5,645.2 175.5,643.8 183.5,642.2 191.5,640.3 199.5,638.3 207.5,635.3 215.5,632.3 223.5,628.4 231.5,624.4 239.5,621.4 247.5,616.5 255.5,613.5 263.5,609.6 271.5,604.6 279.5,601.6 287.5,598.0 295.5,596.3 303.5,596.3 311.5,598.3 319.5,599.6 327.5,601.6 335.5,603.6 343.5,606.6 351.5,609.6 359.5,611.0 367.5,611.5 375.5,610.5 383.5,608.2 391.5,604.6 399.5,601.0 407.5,596.7 415.5,592.3 423.5,588.4 431.5,585.2 439.5,581.8 447.5,578.5 455.5,576.5 463.5,575.3 471.5,575.3 479.5,575.9 487.5,576.9 495.5,577.9 503.5,579.2 511.5,579.8 519.5,580.4 527.5,580.4 535.5,579.2 543.5,577.9 551.5,575.9 559.5,574.5 567.5,573.3 575.5,573.3 583.5,574.5 591.5,577.3 599.5,579.8 607.5,583.8 615.5,587.8 623.5,592.7 631.5,601.0 639.5,607.6 647.5,613.5 655.5,621.4 663.5,629.4 671.5,637.3 679.5,643.2 687.5,647.2 695.5,650.2 703.5,653.1 711.5,654.5 719.5,655.1 727.5,655.1 735.5,654.1 743.5,651.7 751.5,650.2 759.5,649.2 767.5,647.2 775.5,644.2 783.5,643.2 791.5,640.3 799.5,639.3 807.5,637.9 815.5,635.9 823.5,635.3 831.5,633.9 839.5,633.3 847.5,633.3 855.5,632.3 863.5,629.4 871.5,626.8 879.5,624.0 887.5,621.4 895.5,614.9 903.5,611.0 911.5,605.0 919.5,599.6 927.5,593.1 935.5,586.4 943.5,581.2 951.5,577.3 959.5,575.3 967.5,574.5 975.5,574.5 983.5,575.9 991.5,578.5 999.5,581.2 1007.5,583.2 1015.5,588.4 1023.5,592.3 1031.5,595.7 1039.5,600.2 1047.5,603.6 1055.5,606.6 1063.5,608.6 1071.5,610.5 1079.5,612.1 1087.5,612.9 1095.5,614.1 1103.5,615.5 1111.5,615.5 1119.5,614.5" fill="none" stroke="#ff0000" stroke-width="1" stroke-dasharray="3.5 2.5"/>
</g>
<rect x="351" y="564" width="1" height="5" fill="#ff0000"/>
<line x1="8" y1="707.5" x2="1421" y2="707.5" stroke="#c0c0c0" stroke-dasharray="3 3"/>
<line x1="8" y1="758.5" x2="1421" y2="758.5" stroke="#c0c0c0" stroke-dasharray="3 3"/>
<g clip-path="url(#cr)">
<polyline points="7.5,754.4 15.5,747.4 23.5,754.4 31.5,750.4 39.5,745.5 47.5,747.4 55.5,748.4 63.5,745.5 71.5,748.4 79.5,754.4 87.5,756.4 95.5,757.4 103.5,761.3 111.5,765.3 119.5,753.8 127.5,749.4 135.5,753.8 143.5,755.4 151.5,749.4 159.5,740.5 167.5,741.5 175.5,743.5 183.5,741.5 191.5,743.1 199.5,746.5 207.5,736.6 215.5,737.9 223.5,728.6 231.5,723.7 239.5,729.2 247.5,728.0 255.5,721.3 263.5,724.1 271.5,733.2 279.5,733.2 287.5,740.0 295.5,743.5 303.5,751.8 311.5,748.4 319.5,753.4 327.5,744.5 335.5,743.1 343.5,734.6 351.5,733.2 359.5,729.2 367.5,725.7 375.5,726.6 383.5,721.3 391.5,717.7 399.5,714.8 407.5,714.2 415.5,730.6 423.5,725.7 431.5,718.7 439.5,719.7 447.5,730.6 455.5,730.6 463.5,732.0 471.5,741.5 479.5,734.6 487.5,731.6 495.5,722.1 503.5,723.3 511.5,720.1 519.5,724.7 527.5,727.2 535.5,717.3 543.5,723.3 551.5,723.3 559.5,726.6 567.5,733.0 575.5,736.6 583.5,741.9 591.5,749.0 599.5,749.0 607.5,750.4 615.5,754.4 623.5,758.3 631.5,763.3 639.5,763.3 647.5,764.9 655.5,767.3 663.5,767.3 671.5,767.3 679.5,750.4 687.5,753.4 695.5,755.0 703.5,758.3 711.5,746.5 719.5,753.4 727.5,748.4 735.5,745.5 743.5,745.5 751.5,750.4 759.5,745.9 767.5,742.5 775.5,747.4 783.5,748.4 791.5,755.0 799.5,739.5 807.5,742.5 815.5,744.5 823.5,745.5 831.5,746.5 839.5,747.4 847.5,749.0 855.5,736.0 863.5,728.6 871.5,726.0 879.5,719.3 887.5,720.1 895.5,717.3 903.5,718.1 911.5,715.4 919.5,719.3 927.5,716.1 935.5,716.1 943.5,722.1 951.5,721.3 959.5,732.6 967.5,739.1 975.5,745.9 983.5,743.9 991.5,743.1 999.5,736.6 1007.5,745.1 1015.5,745.1 1023.5,743.5 1031.5,743.5 1039.5,745.1 1047.5,753.8 1055.5,753.8 1063.5,741.9 1071.5,735.6 1079.5,736.6 1087.5,743.1 1095.5,744.5 1103.5,745.9 1111.5,735.2 1119.5,726.0" fill="none" stroke="#1e90ff" stroke-width="1" />
</g>
<rect x="6" y="21" width="1417" height="1" fill="#000"/>
<rect x="6" y="560" width="1417" height="1" fill="#000"/>
<rect x="6" y="21" width="1" height="540" fill="#000"/>
<rect x="1422" y="21" width="1" height="540" fill="#000"/>
<rect x="6" y="563" width="1417" height="1" fill="#000"/>
<rect x="6" y="665" width="1417" height="1" fill="#000"/>
<rect x="6" y="563" width="1" height="103" fill="#000"/>
<rect x="1422" y="563" width="1" height="103" fill="#000"/>
<rect x="6" y="667" width="1417" height="1" fill="#000"/>
<rect x="6" y="797" width="1417" height="1" fill="#000"/>
<rect x="6" y="667" width="1" height="131" fill="#000"/>
<rect x="1422" y="667" width="1" height="131" fill="#000"/>
<rect x="1423" y="29" width="2" height="1" fill="#000"/>
<rect x="1423" y="62" width="2" height="1" fill="#000"/>
<rect x="1423" y="95" width="2" height="1" fill="#000"/>
<rect x="1423" y="128" width="2" height="1" fill="#000"/>
<rect x="1423" y="161" width="2" height="1" fill="#000"/>
<rect x="1423" y="194" width="2" height="1" fill="#000"/>
<rect x="1423" y="227" width="2" height="1" fill="#000"/>
<rect x="1423" y="260" width="2" height="1" fill="#000"/>
<rect x="1423" y="293" width="2" height="1" fill="#000"/>
<rect x="1423" y="326" width="2" height="1" fill="#000"/>
<rect x="1423" y="360" width="2" height="1" fill="#000"/>
<rect x="1423" y="392" width="2" height="1" fill="#000"/>
<rect x="1423" y="425" width="2" height="1" fill="#000"/>
<rect x="1423" y="458" width="2" height="1" fill="#000"/>
<rect x="1423" y="491" width="2" height="1" fill="#000"/>
<rect x="1423" y="524" width="2" height="1" fill="#000"/>
<rect x="1423" y="557" width="2" height="1" fill="#000"/>
<rect x="1423" y="563" width="2" height="1" fill="#000"/>
<rect x="1423" y="593" width="2" height="1" fill="#000"/>
<rect x="1423" y="665" width="2" height="1" fill="#000"/>
<rect x="1423" y="669" width="2" height="1" fill="#000"/>
<rect x="7" y="798" width="1" height="3" fill="#000"/>
<rect x="71" y="798" width="1" height="3" fill="#000"/>
<rect x="135" y="798" width="1" height="3" fill="#000"/>
<rect x="199" y="798" width="1" height="3" fill="#000"/>
<rect x="263" y="798" width="1" height="3" fill="#000"/>
<rect x="327" y="798" width="1" height="3" fill="#000"/>
<rect x="391" y="798" width="1" height="3" fill="#000"/>
<rect x="455" y="798" width="1" height="3" fill="#000"/>
<rect x="519" y="798" width="1" height="3" fill="#000"/>
<rect x="583" y="798" width="1" height="3" fill="#000"/>
<rect x="647" y="798" width="1" height="3" fill="#000"/>
<rect x="711" y="798" width="1" height="3" fill="#000"/>
<rect x="775" y="798" width="1" height="3" fill="#000"/>
<rect x="839" y="798" width="1" height="3" fill="#000"/>
<rect x="903" y="798" width="1" height="3" fill="#000"/>
<rect x="967" y="798" width="1" height="3" fill="#000"/>
<rect x="1031" y="798" width="1" height="3" fill="#000"/>
<rect x="1095" y="798" width="1" height="3" fill="#000"/>
<rect x="4" y="818" width="1460" height="1" fill="#d9d9d9"/>
<rect x="2" y="820" width="1462" height="1" fill="#000"/>
</svg>
<div class="ax" style="top:25px">0.70965</div>
<div class="ax" style="top:58px">0.70695</div>
<div class="ax" style="top:91px">0.70420</div>
<div class="ax" style="top:124px">0.70150</div>
<div class="ax" style="top:157px">0.69875</div>
<div class="ax" style="top:190px">0.69605</div>
<div class="ax" style="top:223px">0.69330</div>
<div class="ax" style="top:256px">0.69060</div>
<div class="ax" style="top:289px">0.68785</div>
<div class="ax" style="top:322px">0.68515</div>
<div class="ax" style="top:356px">0.68240</div>
<div class="ax" style="top:388px">0.67970</div>
<div class="ax" style="top:421px">0.67700</div>
<div class="ax" style="top:454px">0.67425</div>
<div class="ax" style="top:487px">0.67155</div>
<div class="ax" style="top:520px">0.66880</div>
<div class="ax" style="top:553px">0.66610</div>
<div class="ax" style="top:565px;left:1426px">0.002574</div>
<div class="ax" style="top:589px;left:1426px">0.00</div>
<div class="ax" style="top:654px;left:1426px">-0.006326</div>
<div class="ax" style="top:670px;left:1426px">100</div>
<div class="ax" style="top:703px;left:1426px">70</div>
<div class="ax" style="top:754px;left:1426px">30</div>
<div class="ax" style="top:786px;left:1426px">0</div>
<div class="dt" style="left:6px">2 May 2019</div>
<div class="dt" style="left:70px">12 May 2019</div>
<div class="dt" style="left:134px">21 May 2019</div>
<div class="dt" style="left:198px">30 May 2019</div>
<div class="dt" style="left:262px">9 Jun 2019</div>
<div class="dt" style="left:326px">18 Jun 2019</div>
<div class="dt" style="left:390px">27 Jun 2019</div>
<div class="dt" style="left:454px">7 Jul 2019</div>
<div class="dt" style="left:518px">16 Jul 2019</div>
<div class="dt" style="left:582px">25 Jul 2019</div>
<div class="dt" style="left:646px">4 Aug 2019</div>
<div class="dt" style="left:710px">13 Aug 2019</div>
<div class="dt" style="left:774px">22 Aug 2019</div>
<div class="dt" style="left:838px">1 Sep 2019</div>
<div class="dt" style="left:902px">10 Sep 2019</div>
<div class="dt" style="left:966px">19 Sep 2019</div>
<div class="dt" style="left:1030px">29 Sep 2019</div>
<div class="dt" style="left:1094px">8 Oct 2019</div>
<div style="position:absolute;left:1424px;top:140px;width:40px;height:11px;background:#ff0000"></div>
<div class="ax" style="top:141px;color:#fff">0.70002</div>
<div style="position:absolute;left:1424px;top:261px;width:40px;height:11px;background:#ff0000"></div>
<div class="ax" style="top:262px;color:#fff">0.69003</div>
<div style="position:absolute;left:1424px;top:382px;width:40px;height:11px;background:#00ff00"></div>
<div class="ax" style="top:383px;color:#fff">0.68006</div>
<div style="position:absolute;left:1424px;top:540px;width:40px;height:11px;background:#0000ff"></div>
<div class="ax" style="top:541px;color:#fff">0.66705</div>
<svg style="position:absolute;left:10px;top:28px" width="8" height="5"><polygon points="0,4 7,4 3.5,0" fill="#000"/></svg>
<div class="t" style="left:23px;top:25px;letter-spacing:0">AUDUSD-,Daily</div>
<div class="t" style="left:97px;top:25px;letter-spacing:-0.2px">0.67615 0.68095 0.67584 0.67994</div>
<div class="t" style="left:11px;top:567px;letter-spacing:-0.15px">MACD(12,26,9) -0.001197 -0.001872</div>
<div class="t" style="left:11px;top:672px;letter-spacing:-0.2px">RSI(14) 55.8028</div>
<div style="position:absolute;left:8px;top:39px;width:223px;height:68px;background:#fff"></div>
<div style="position:absolute;left:10px;top:41px;width:52px;height:25px;background:linear-gradient(#5e5eff,#3a3af0);border:1px solid #0000c8;border-bottom:none"></div>
<div style="position:absolute;left:177px;top:41px;width:52px;height:25px;background:linear-gradient(#5e5eff,#3a3af0);border:1px solid #0000c8;border-bottom:none"></div>
<div style="position:absolute;left:10px;top:65px;width:109px;height:40px;background:linear-gradient(#3434e8,#0000b8);border:1px solid #0000b0;border-top:1px solid #0000c0"></div>
<div style="position:absolute;left:121px;top:65px;width:108px;height:40px;background:linear-gradient(#3434e8,#0000b8);border:1px solid #0000b0;border-top:1px solid #0000c0"></div>
<div style="position:absolute;left:11px;top:41px;width:50px;height:25px;background:linear-gradient(#5e5eff,#3a3af0)"></div>
<div style="position:absolute;left:178px;top:41px;width:50px;height:25px;background:linear-gradient(#5e5eff,#3a3af0);border-top:1px solid #0000c8"></div>
<div style="position:absolute;left:11px;top:41px;width:50px;height:1px;background:#0000c8"></div>
<div style="position:absolute;left:14px;top:64px;width:44px;height:1px;background:#2020c0"></div>
<div style="position:absolute;left:14px;top:65px;width:44px;height:1px;background:#9a9aff"></div>
<div style="position:absolute;left:181px;top:64px;width:44px;height:1px;background:#2020c0"></div>
<div style="position:absolute;left:181px;top:65px;width:44px;height:1px;background:#9a9aff"></div>
<div style="position:absolute;left:64px;top:41px;width:111px;height:22px;background:#fff;border:1px solid #b0b0b0"></div>
<div style="position:absolute;left:65px;top:42px;width:21px;height:20px;background:linear-gradient(#f2f2f2 0%,#ebebeb 48%,#d8d8d8 52%,#d4d4d4 100%);border:1px solid #fff;border-right:1px solid #b0b0b0"></div>
<div style="position:absolute;left:153px;top:42px;width:21px;height:20px;background:linear-gradient(#f2f2f2 0%,#ebebeb 48%,#d8d8d8 52%,#d4d4d4 100%);border:1px solid #fff;border-left:1px solid #b0b0b0"></div>
<svg style="position:absolute;left:72px;top:50px" width="6" height="4"><polygon points="0,0 6,0 3,3.2" fill="#5868c0"/></svg>
<svg style="position:absolute;left:161px;top:50px" width="6" height="4"><polygon points="0,3.2 6,3.2 3,0" fill="#5868c0"/></svg>
<div class="pn" style="left:121px;top:46px;width:30px;text-align:right;color:#000;font-size:12px">1.00</div>
<div class="pn" style="left:22px;top:47px;font-size:12.3px;letter-spacing:-0.7px;color:#f4f4ff">SELL</div>
<div class="pn" style="left:190px;top:47px;font-size:12.3px;color:#f4f4ff">BUY</div>
<div class="pn" style="left:30px;top:86px;font-size:12.3px;font-weight:bold">0.67</div>
<div class="pn" style="left:56px;top:66px;font-size:34px;letter-spacing:-0.5px">99</div>
<div class="pn" style="left:97px;top:69px;font-size:13px;font-weight:bold">4</div>
<div class="pn" style="left:140px;top:86px;font-size:12.3px;font-weight:bold">0.68</div>
<div class="pn" style="left:167px;top:66px;font-size:34px;letter-spacing:-0.5px">01</div>
<div class="pn" style="left:208px;top:69px;font-size:13px;font-weight:bold">6</div>
<div style="position:absolute;left:0;top:821px;width:1464px;height:18px;background:#f0f0f0"></div>
<div style="position:absolute;left:3px;top:821px;width:1px;height:18px;background:#7a7a7a"></div>
<div style="position:absolute;left:116px;top:820px;width:108px;height:19px;background:#fff;border-left:1px solid #000;border-right:1px solid #000;border-bottom:1px solid #000"></div>
<div class="tab" style="left:19px">EURUSD-,Daily</div>
<div class="tab" style="left:126px;color:#000;letter-spacing:0">AUDUSD-,Daily</div>
<div class="tab" style="left:236px">USDCHF-,Daily</div>
<div class="tab" style="left:343px">USDCAD-,Daily</div>
<div class="tab" style="left:452px">USDCNH-,Daily</div>
<div class="tab" style="left:563px">EURCHF-,Weekly</div>
<div class="tab" style="left:684px">XAUUSD-,Weekly</div>
<div class="tab" style="left:807px">GBPUSD-,H1</div>
<div class="tab" style="left:903px">UKOil-,H1</div>
<div class="tab" style="left:982px">USDX-,Weekly</div>
<div class="tab" style="left:1086px">EURCHF-,H1</div>
<div class="tab" style="left:1180px">USOil-,H1</div>
<div class="sep" style="left:332px"></div>
<div class="sep" style="left:439px"></div>
<div class="sep" style="left:552px"></div>
<div class="sep" style="left:672px"></div>
<div class="sep" style="left:796px"></div>
<div class="sep" style="left:891px"></div>
<div class="sep" style="left:973px"></div>
<div class="sep" style="left:1077px"></div>
<div class="sep" style="left:1169px"></div>
<div class="sep" style="left:1247px"></div>
<svg style="position:absolute;left:1437px;top:825px" width="26" height="8"><polygon points="4,0 4,7 0,3.5" fill="#a0a0a0"/><polygon points="20,0 20,7 24,3.5" fill="#a0a0a0"/></svg>
</body></html>
